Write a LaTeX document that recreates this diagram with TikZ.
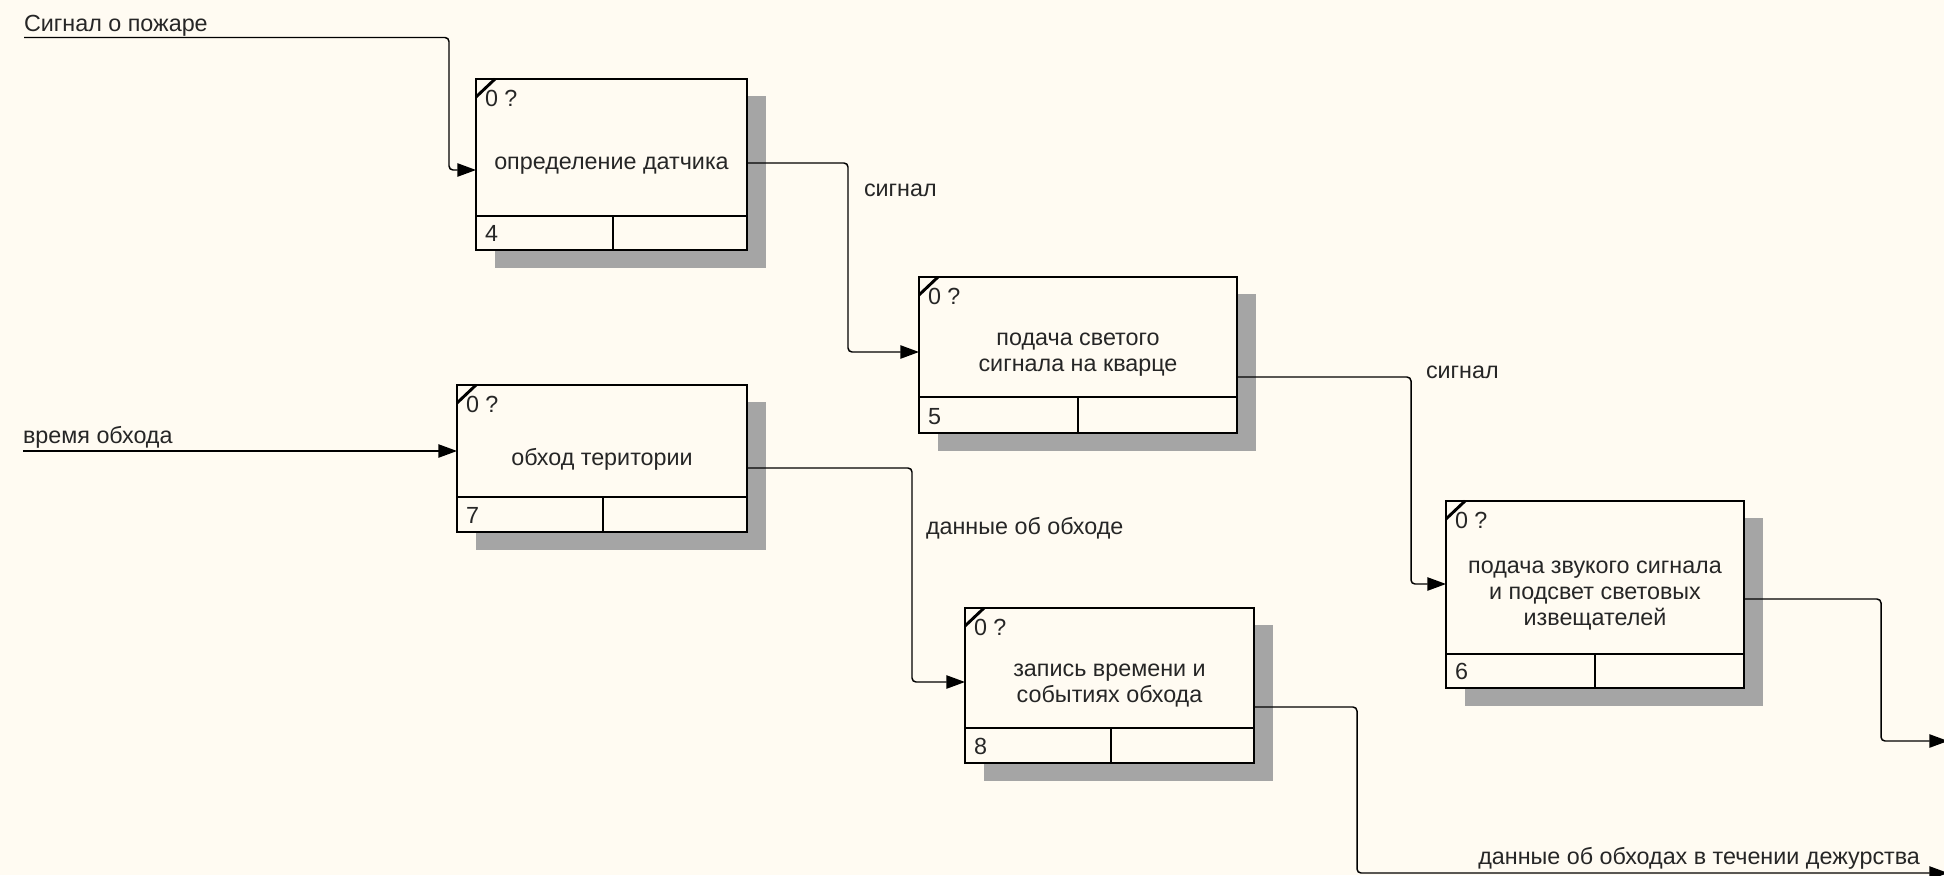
\documentclass[tikz,border=0pt]{standalone}
\usepackage{fontspec}
\setmainfont{Liberation Sans}
\usetikzlibrary{arrows.meta}
\definecolor{bgc}{RGB}{255,251,242}
\definecolor{shd}{RGB}{165,165,165}
\tikzset{
  every node/.style={font=\fontsize{17.5}{19.5}\selectfont, inner sep=0pt, outer sep=0pt, text=black!85},
  fbox/.style={draw, line width=2.2pt, fill=bgc, rectangle},
  fline/.style={line width=2.2pt},
  shadowfill/.style={fill=shd},
  conn/.style={line width=1.1pt, rounded corners=3pt, -{Triangle[length=14pt,width=10pt]}},
  lbl/.style={anchor=base west}
}
\newcommand\idefbox[9]{%
  \fill[shadowfill] (#2+19,#3+17) rectangle (#4+19,#5+18);
  \node[fbox, minimum width={(#4-#2)*0.75pt}, minimum height={(#5-#3)*0.75pt}] (#1) at ({(#2+#4)/2},{(#3+#5)/2}) {};
  \draw[fline] (#1.west |- 0,#6) -- (#1.east |- 0,#6);
  \draw[fline] (#7,#6) -- (#1.south -| #7,0);
  \draw[fline] (#2,#3+18) -- (#2+19,#3);
  \node[anchor=base west] (#1id) at (#2+9,#3+27) {0 ?};
  \node[anchor=base west] (#1no) at (#2+9,#5-9) {#8};
  \node[align=center] (#1t) at ({(#2+#4)/2},{(#3+#6)/2+18}) {#9};
}
\begin{document}
\begin{tikzpicture}[x=0.75pt,y=-0.75pt]
\fill[bgc] (0,0) rectangle (1944,875);
\useasboundingbox (0,0) rectangle (1944,875);

\idefbox{b1}{476}{79}{747}{250}{216}{613}{4}{определение датчика}
\idefbox{b2}{919}{277}{1237}{433}{397}{1078}{5}{подача светого\\сигнала на кварце}
\idefbox{b3}{457}{385}{747}{532}{497}{603}{7}{обход територии}
\idefbox{b4}{965}{608}{1254}{763}{728}{1111}{8}{запись времени и\\событиях обхода}
\idefbox{b5}{1446}{501}{1744}{688}{654}{1595}{6}{подача звукого сигнала\\и подсвет световых\\извещателей}

% free ends
\coordinate (in1) at (24,37.5);
\coordinate (in2) at (23,451);
\coordinate (out1) at (1948,741);
\coordinate (out2) at (1948,873);

% connectors
\draw[conn] (in1) -- (449,37.5) -- (449,170) -- (b1.west |- 0,170);
\draw[conn] (in2) -- (b3.west |- 0,451);
\draw[conn] (b1.east |- 0,163) -- (848,163) -- (848,352) -- (b2.west |- 0,352);
\draw[conn] (b2.east |- 0,377) -- (1411,377) -- (1411,584) -- (b5.west |- 0,584);
\draw[conn] (b3.east |- 0,468) -- (912,468) -- (912,682) -- (b4.west |- 0,682);
\draw[conn] (b5.east |- 0,599) -- (1881,599) -- (1881,741) -- (out1);
\draw[conn] (b4.east |- 0,707) -- (1357,707) -- (1357,873) -- (out2);

% labels
\node[lbl] (l1) at (24,31) {Сигнал о пожаре};
\node[lbl] (l2) at (23,443) {время обхода};
\node[anchor=west] (l3) at (864,190) {сигнал};
\node[anchor=west] (l4) at (1426,372) {сигнал};
\node[anchor=west] (l5) at (926,528) {данные об обходе};
\node[anchor=base east] (l6) at (1920,864) {данные об обходах в течении дежурства};
\end{tikzpicture}
\end{document}
